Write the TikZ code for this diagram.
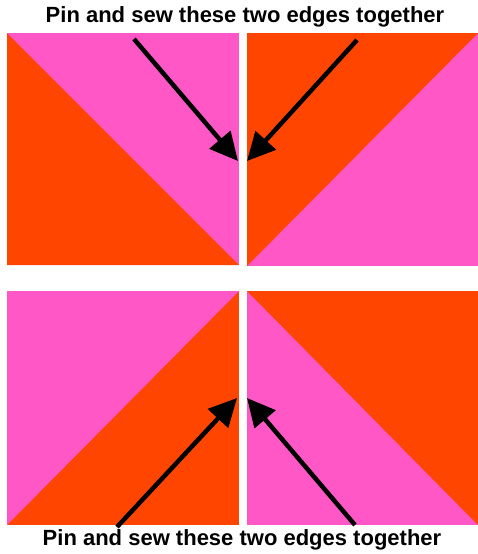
\documentclass[tikz,border=0pt]{standalone}
\usepackage{fontspec}
\setmainfont{Liberation Sans}
\usetikzlibrary{arrows.meta}
\definecolor{patchorange}{HTML}{FF4500}
\definecolor{patchpink}{HTML}{FF57C6}
\tikzset{
  pinarrow/.style={line width=4.5pt,-{Triangle[length=28pt,width=27pt]}},
  caption/.style={font=\bfseries\fontsize{22}{24}\selectfont,inner sep=0pt}
}
\begin{document}
\begin{tikzpicture}[x=1pt,y=-1pt]
\useasboundingbox (0,0) rectangle (478,554);
% top pair
\fill[patchpink] (7,33) rectangle (239,265);
\fill[patchorange] (7,33) -- (239,265) -- (7,265) -- cycle;
\fill[patchpink] (247,33) rectangle (478,266);
\fill[patchorange] (247,33) -- (478,33) -- (247,266) -- cycle;
% bottom pair
\fill[patchorange] (7,291) rectangle (239,525);
\fill[patchpink] (7,291) -- (239,291) -- (7,525) -- cycle;
\fill[patchpink] (247,291) rectangle (478,525);
\fill[patchorange] (247,291) -- (478,291) -- (478,525) -- cycle;
% labels
\node[caption] (toplabel) at (245,17) {Pin and sew these two edges together};
\node[caption] (botlabel) at (242,540) {Pin and sew these two edges together};
% arrows
\coordinate (tlstart) at (134,39);
\coordinate (tltip) at (238,161);
\coordinate (trstart) at (357,40);
\coordinate (trtip) at (247,161);
\coordinate (blstart) at (117,527);
\coordinate (bltip) at (237,398);
\coordinate (brstart) at (355,525);
\coordinate (brtip) at (247,398);
\draw[pinarrow] (tlstart) -- (tltip);
\draw[pinarrow] (trstart) -- (trtip);
\draw[pinarrow] (blstart) -- (bltip);
\draw[pinarrow] (brstart) -- (brtip);
\end{tikzpicture}
\end{document}
